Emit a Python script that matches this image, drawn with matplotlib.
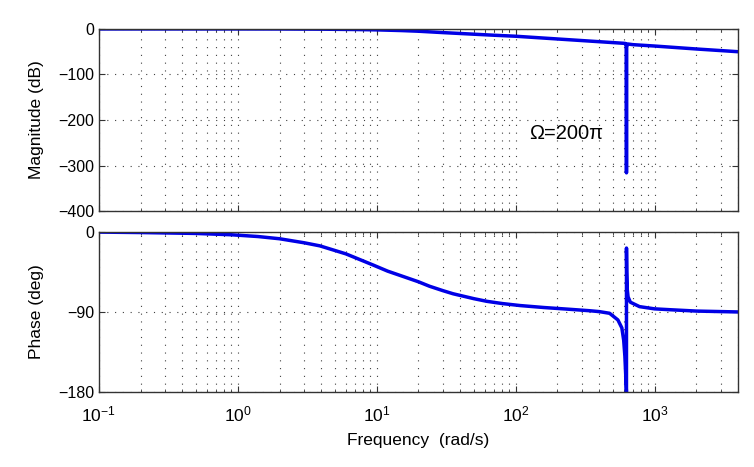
import matplotlib
matplotlib.use("Agg")
import matplotlib.pyplot as plt
from matplotlib.ticker import LogLocator, NullFormatter

plt.rcParams['font.family'] = ['Liberation Sans', 'DejaVu Sans']
plt.rcParams['mathtext.fontset'] = 'custom'
plt.rcParams['mathtext.rm'] = 'Liberation Sans'

# magnitude (dB)
mag_freq = [0.1, 0.3, 1, 2, 4, 7, 10, 15, 20, 30, 50, 70, 100, 200, 400,
            600, 620, 626, 628.3, 630.5, 640, 700, 1000, 2000, 4000]
mag_db = [0, 0, 0, -0.1, -0.5, -1.2, -2, -3.5, -5, -8, -11.5, -13.8, -16,
          -22, -28, -31.5, -32, -40, -316, -40, -33, -34.5, -37.5, -44, -50]

# phase (deg)
ph_freq = [0.1, 0.2, 0.5, 0.9, 1.4, 2, 3, 3.9, 6, 9.4, 12, 15.5, 20, 24, 30,
           35.5, 50, 62, 80, 108, 160, 245, 340, 400, 475, 545, 582, 600,
           612, 620, 626, 628.2, 628.4, 631, 636, 645, 670, 780, 1000, 1300,
           2000, 4000]
ph_deg = [0, -0.5, -1.5, -3, -5, -7.5, -12, -15.5, -24.5, -37, -44, -50, -56,
          -61, -66, -69.5, -75, -78, -80.5, -82.8, -85, -87, -88.6, -89.6,
          -91.5, -99, -108, -122, -140, -160, -176, -180, -18, -45, -64, -73,
          -79, -84, -86.5, -87.5, -89, -90]

fig = plt.figure(figsize=(7.54, 4.67), dpi=100)
ax1 = fig.add_axes([0.131, 0.548, 0.848, 0.390])
ax2 = fig.add_axes([0.131, 0.161, 0.848, 0.342])

blue = '#0000e6'
grid_style = dict(color='#404040', linestyle=(0, (1, 6)), linewidth=0.8)

for ax in (ax1, ax2):
    ax.set_xscale('log')
    ax.set_xlim(0.1, 4000)
    ax.xaxis.set_major_locator(LogLocator(base=10))
    ax.xaxis.set_minor_locator(LogLocator(base=10, subs=range(2, 10)))
    ax.xaxis.set_minor_formatter(NullFormatter())
    ax.grid(True, which='major', axis='both', **grid_style)
    ax.grid(True, which='minor', axis='x', **grid_style)
    ax.tick_params(which='both', direction='in', top=True, right=True,
                   labelsize=11.5, color='#333333')
    ax.tick_params(which='major', length=4)
    ax.tick_params(which='minor', length=2)
    for s in ax.spines.values():
        s.set_color('#333333')
        s.set_linewidth(1.0)

ax1.plot(mag_freq, mag_db, color=blue, linewidth=2.5)
ax1.set_ylim(-400, 0)
ax1.set_yticks([0, -100, -200, -300, -400])
ax1.set_yticklabels(['0', '\u2212100', '\u2212200', '\u2212300', '\u2212400'])
ax1.set_xticklabels([])
ax1.set_ylabel('Magnitude (dB)', fontsize=12.5)
ax1.text(233, -229, '\u03a9=200\u03c0', fontsize=14.5, ha='center', va='center')

ax2.plot(ph_freq, ph_deg, color=blue, linewidth=2.5)
ax2.set_ylim(-180, 0)
ax2.set_yticks([0, -90, -180])
ax2.set_yticklabels(['0', '\u221290', '\u2212180'])
ax2.set_ylabel('Phase (deg)', fontsize=12.5)
ax2.set_xlabel('Frequency  (rad/s)', fontsize=12.5, labelpad=6)
ax2.tick_params(axis='x', labelsize=12.5, pad=9)

ax1.yaxis.set_label_coords(-0.085, 0.5)
ax2.yaxis.set_label_coords(-0.085, 0.5)

fig.savefig('out.png', dpi=100)
